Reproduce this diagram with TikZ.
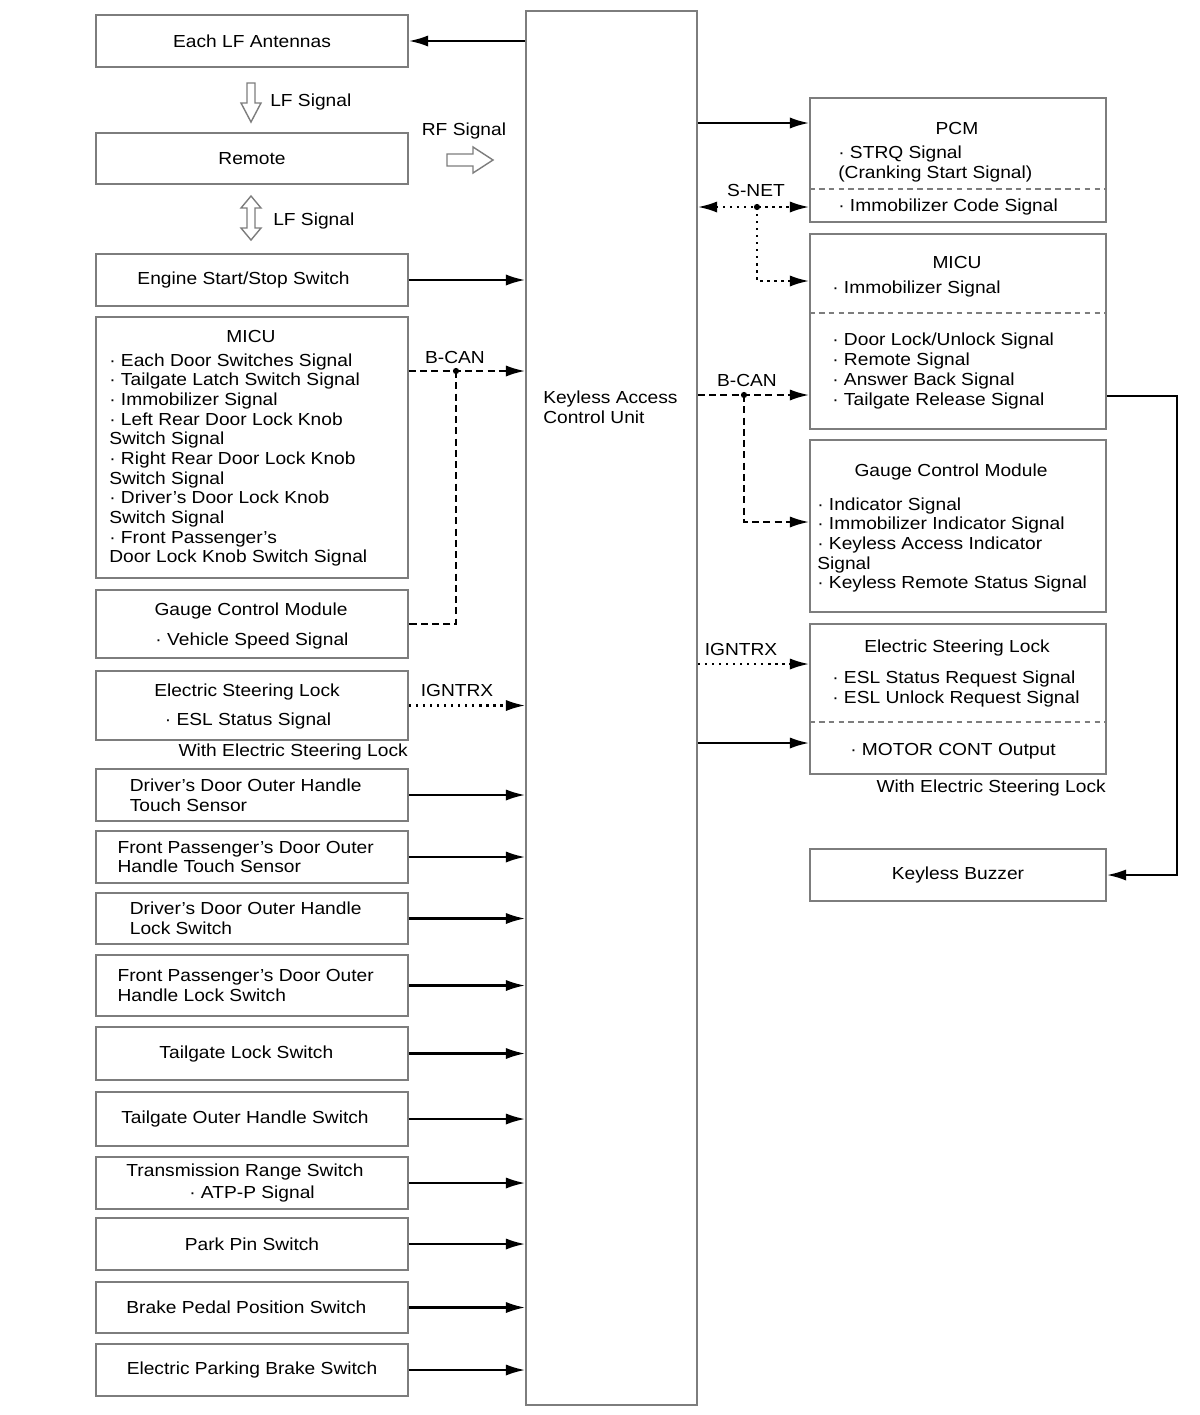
\documentclass[tikz,border=0pt]{standalone}
\usepackage{fontspec}
\setmainfont{Liberation Sans}[FakeStretch=1.1]
\usetikzlibrary{arrows.meta, positioning}
\definecolor{rahmenGrau}{RGB}{125,125,125}

\begin{document}
\begin{tikzpicture}[x=0.025cm, y=-0.025cm,
    box/.style={draw=rahmenGrau, line width=1.3pt, inner sep=0pt, fill=white},
    lbox/.style={box, minimum width=7.8cm},
    rbox/.style={box, minimum width=7.4cm},
    txt/.style={inner sep=0pt, align=left},
    arrow/.style={line width=1.5pt, -{Latex[length=4.8mm, width=2.8mm]}},
    canline/.style={arrow, dash pattern=on 5pt off 3pt},
    netline/.style={arrow, dash pattern=on 1.6pt off 3.4pt},
    divider/.style={draw=rahmenGrau, line width=0.8pt, dash pattern=on 4pt off 3pt},
    hollow/.style={draw=rahmenGrau, line width=1pt, fill=white},
    font=\fontsize{12.4}{14}\selectfont
]
    \useasboundingbox (0,0) rectangle (1200,1415);

    % left column
    \node[lbox, minimum height=1.3cm] (ant) at (252,41) {Each LF Antennas};
    \node[lbox, minimum height=1.275cm] (remote) at (252,158.5) {Remote};
    \node[lbox, minimum height=1.3cm] (ess) at (252,280) {Engine Start/Stop Switch\kern12pt};
    \node[lbox, minimum height=6.525cm] (micuL) at (252,447.5) {};
    \node[lbox, minimum height=1.7cm] (gcmL) at (252,624) {};
    \node[lbox, minimum height=1.725cm] (eslL) at (252,705.5) {};
    \node[lbox, minimum height=1.3cm, align=left] (ddts) at (252,795) {Driver’s Door Outer Handle\kern9pt\\Touch Sensor};
    \node[lbox, minimum height=1.3cm, align=left] (fpts) at (252,857) {Front Passenger’s Door Outer\kern9pt\\Handle Touch Sensor};
    \node[lbox, minimum height=1.275cm, align=left] (ddls) at (252,918.5) {Driver’s Door Outer Handle\kern9pt\\Lock Switch};
    \node[lbox, minimum height=1.525cm, align=left] (fpls) at (252,985.5) {Front Passenger’s Door Outer\kern9pt\\Handle Lock Switch};
    \node[lbox, minimum height=1.325cm] (tls) at (252,1053.5) {Tailgate Lock Switch\kern8pt};
    \node[lbox, minimum height=1.35cm] (tohs) at (252,1119) {Tailgate Outer Handle Switch\kern10pt};
    \node[lbox, minimum height=1.3cm, align=center] (trs) at (252,1183) {Transmission Range Switch\kern10pt\\[1pt]· ATP-P Signal};
    \node[lbox, minimum height=1.3cm] (pps) at (252,1244) {Park Pin Switch};
    \node[lbox, minimum height=1.275cm] (bpps) at (252,1307.5) {Brake Pedal Position Switch\kern8pt};
    \node[lbox, minimum height=1.3cm] (epbs) at (252,1370) {Electric Parking Brake Switch};

    \node[txt] (micuLtitle) at (251,336) {MICU};
    \node[txt, anchor=west] (micuLlist) at (109,460) {· Each Door Switches Signal\\· Tailgate Latch Switch Signal\\· Immobilizer Signal\\· Left Rear Door Lock Knob\\Switch Signal\\· Right Rear Door Lock Knob\\Switch Signal\\· Driver's Door Lock Knob\\Switch Signal\\· Front Passenger's\\Door Lock Knob Switch Signal};
    \node[txt] (gcmLtitle) at (251,611) {Gauge Control Module};
    \node[txt] (gcmLsig) at (252,641) {· Vehicle Speed Signal};
    \node[txt] (eslLtitle) at (247,692) {Electric Steering Lock};
    \node[txt] (eslLsig) at (248,721) {· ESL Status Signal};
    \node[txt, anchor=east] (eslLnote) at (408,752) {With Electric Steering Lock};

    % centre
    \node[box, minimum width=4.275cm, minimum height=34.85cm] (kacu) at (611.5,708) {};
    \node[txt, anchor=west] (kacuTxt) at (543,407) {Keyless Access\\Control Unit};

    % right column
    \node[rbox, minimum height=3.1cm] (pcm) at (958,160) {};
    \node[rbox, minimum height=4.875cm] (micuR) at (958,331.5) {};
    \node[rbox, minimum height=4.3cm] (gcmR) at (958,526) {};
    \node[rbox, minimum height=3.75cm] (eslR) at (958,699) {};
    \node[rbox, minimum height=1.3cm] (buzz) at (958,875) {Keyless Buzzer};

    \draw[divider] (pcm.west |- 0,189) -- (pcm.east |- 0,189);
    \draw[divider] (micuR.west |- 0,313) -- (micuR.east |- 0,313);
    \draw[divider] (eslR.west |- 0,722) -- (eslR.east |- 0,722);

    \node[txt] (pcmTitle) at (957,128) {PCM};
    \node[txt, anchor=west] (pcmStrq) at (838,164) {· STRQ Signal\\(Cranking Start Signal)};
    \node[txt, anchor=west] (pcmImmo) at (838,207) {· Immobilizer Code Signal};
    \node[txt] (micuRtitle) at (957,262) {MICU};
    \node[txt, anchor=west] (micuRimmo) at (832,289) {· Immobilizer Signal};
    \node[txt, anchor=west] (micuRlist) at (832,371) {· Door Lock/Unlock Signal\\· Remote Signal\\· Answer Back Signal\\· Tailgate Release Signal};
    \node[txt] (gcmRtitle) at (951,472) {Gauge Control Module};
    \node[txt, anchor=west] (gcmRlist) at (817,545) {· Indicator Signal\\· Immobilizer Indicator Signal\\· Keyless Access Indicator\\Signal\\· Keyless Remote Status Signal};
    \node[txt] (eslRtitle) at (957,648) {Electric Steering Lock};
    \node[txt, anchor=west] (eslRlist) at (832,689) {· ESL Status Request Signal\\· ESL Unlock Request Signal};
    \node[txt, anchor=west] (eslRmotor) at (850,751) {· MOTOR CONT Output};
    \node[txt, anchor=east] (eslRnote) at (1106,788) {With Electric Steering Lock};

    % wireless signals
    \draw[hollow] (247,83) -- (255,83) -- (255,103) -- (261,103) -- (251,122) -- (241,103) -- (247,103) -- cycle;
    \node[txt, anchor=west] (lfDown) at (270,102) {LF Signal};
    \draw[hollow] (251,196) -- (261,208) -- (255,208) -- (255,228) -- (261,228) -- (251,240) -- (241,228) -- (247,228) -- (247,208) -- (241,208) -- cycle;
    \node[txt, anchor=west] (lfBoth) at (273,221) {LF Signal};
    \draw[hollow] (447,154) -- (473,154) -- (473,147) -- (493,160) -- (473,173) -- (473,166) -- (447,166) -- cycle;
    \node[txt] (rfLbl) at (464,131) {RF Signal};

    % left connectors
    \draw[arrow] (kacu.west |- ant.east) -- (ant.east);
    \draw[arrow] (ess.east) -- (ess.east -| kacu.west);
    \coordinate (bcanL) at (456,371);
    \draw[canline] (micuL.east |- bcanL) -- (bcanL -| kacu.west);
    \draw[canline, -] (bcanL) |- (gcmL.east);
    \fill (bcanL) circle (2.2pt);
    \node[txt] (bcanLlbl) at (455,357) {B-CAN};
    \draw[netline] (eslL.east) -- (eslL.east -| kacu.west);
    \node[txt] (ignLlbl) at (457,690) {IGNTRX};
    \foreach \src in {ddts, fpts, ddls, fpls, tls, tohs, trs, pps, bpps, epbs}
        \draw[arrow] (\src.east) -- (\src.east -| kacu.west);

    % right connectors
    \draw[arrow] (kacu.east |- 0,123) -- (pcm.west |- 0,123);
    \coordinate (snet) at (757,207);
    \draw[netline, {Latex[length=4.8mm, width=2.8mm]}-{Latex[length=4.8mm, width=2.8mm]}] (kacu.east |- snet) -- (pcm.west |- snet);
    \draw[netline] (snet) |- (micuR.west |- 0,281);
    \fill (snet) circle (2.2pt);
    \node[txt] (snetLbl) at (756,190) {S-NET};
    \coordinate (bcanR) at (744,395);
    \draw[canline] (kacu.east |- bcanR) -- (micuR.west |- bcanR);
    \draw[canline] (bcanR) |- (gcmR.west |- 0,522);
    \fill (bcanR) circle (2.2pt);
    \node[txt] (bcanRlbl) at (747,380) {B-CAN};
    \draw[netline] (kacu.east |- 0,664) -- (eslR.west |- 0,664);
    \node[txt] (ignRlbl) at (741,649) {IGNTRX};
    \draw[arrow] (kacu.east |- 0,743) -- (eslR.west |- 0,743);
    \coordinate (turn) at (1177,396);
    \draw[arrow] (micuR.east |- turn) -- (turn) |- (buzz.east);
\end{tikzpicture}
\end{document}
